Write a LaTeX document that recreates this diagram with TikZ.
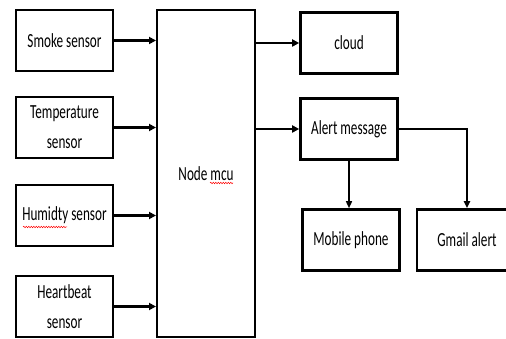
\documentclass[tikz,border=0pt]{standalone}
\usepackage{fontspec}
\newfontfamily\cfont[FakeStretch=0.66]{Carlito}
\usetikzlibrary{arrows.meta,decorations.pathmorphing}
\begin{document}
\begin{tikzpicture}[x=1pt,y=-1pt,
  box/.style={draw,line width=2.6pt,minimum width=97pt,minimum height=61pt,inner sep=0pt,align=center,font=\cfont\fontsize{20}{30}\selectfont},
  bigbox/.style={draw,line width=2pt,minimum width=98pt,minimum height=327pt,inner sep=0pt,font=\cfont\fontsize{20}{30}\selectfont},
  conn/.style={line width=2.2pt,-{Triangle[length=7pt,width=7pt]}},
  thin/.style={line width=1.5pt,-{Triangle[length=7pt,width=6pt]}},
  squig/.style={red,line width=0.5pt,decorate,decoration={snake,amplitude=0.7pt,segment length=2.5pt}}
]
\useasboundingbox (0,0) rectangle (506,339);
\node[box] (smoke) at (64.5,40.5) {Smoke sensor};
\node[box] (temp) at (64.5,127.5) {Temperature\\sensor};
\node[box] (hum) at (64.5,215.5) {Humidty sensor};
\node[box] (heart) at (64.5,306.5) {Heartbeat\\sensor};
\node[bigbox] (mcu) at (206,173.5) {Node mcu};
\node[box] (cloud) at (349,43) {cloud};
\node[box] (alert) at (349,129) {Alert message};
\node[box] (mobile) at (351,240) {Mobile phone};
\node[box,minimum width=100pt] (gmail) at (467,240) {Gmail alert};
\foreach \s in {smoke,temp,hum,heart}
  \draw[conn] (\s.east) -- (\s.east -| mcu.west);
\draw[conn] (mcu.east |- cloud.west) -- (cloud.west);
\draw[conn] (mcu.east |- alert.west) -- (alert.west);
\draw[thin] (alert.south) -- (alert.south |- mobile.north);
\draw[thin,line width=2pt] (alert.east) -| (gmail.north);
\coordinate (h1) at (23,227);
\coordinate (h2) at (67,227);
\coordinate (m1) at (210,183);
\coordinate (m2) at (233,183);
\draw[squig] (h1) -- (h2);
\draw[squig] (m1) -- (m2);
\end{tikzpicture}
\end{document}
